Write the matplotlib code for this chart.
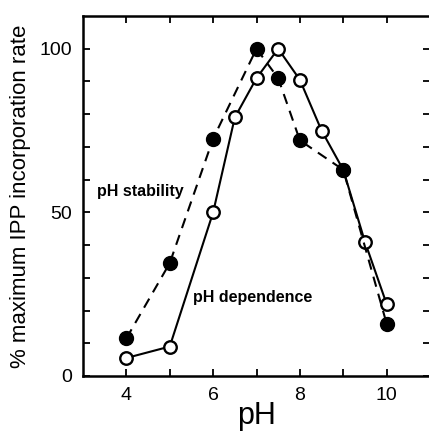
import matplotlib
matplotlib.use("Agg")
import matplotlib.pyplot as plt
import numpy as np

plt.rcParams['font.family'] = ['Liberation Sans', 'DejaVu Sans']

# pH dependence (open circles, solid line)
ph_dep = [4, 5, 6, 6.5, 7, 7.5, 8, 8.5, 9, 9.5, 10]
rate_dep = [5.5, 9, 50, 79, 91, 100, 90.5, 75, 63, 41, 22]

# pH stability (filled circles, dashed line)
ph_stab = [4, 5, 6, 7, 7.5, 8, 9, 10]
rate_stab = [11.5, 34.5, 72.5, 100, 91, 72, 63, 16]

xtick_labels = [4, 6, 8, 10]
ytick_labels = [0, 50, 100]

fig = plt.figure(figsize=(4.29, 4.32), dpi=100)
ax = fig.add_axes([83/429, 1 - 376/432, 347/429, 360/432])

ax.plot(ph_dep, rate_dep, color='black', lw=1.5, ls='-',
        marker='o', ms=9, mfc='white', mec='black', mew=1.7, zorder=2)
ax.plot(ph_stab, rate_stab, color='black', lw=1.5, ls=(0, (5, 3.5)),
        marker='o', ms=10, mfc='black', mec='black', zorder=3)

ax.set_xlim(3, 11)
ax.set_ylim(0, 110)
ax.set_xticks(np.arange(4, 11, 1))
ax.set_xticklabels([str(v) if v in xtick_labels else '' for v in range(4, 11)])
ax.set_yticks(np.arange(0, 110, 10))
ax.set_yticklabels([str(v) if v in ytick_labels else '' for v in range(0, 110, 10)])
ax.tick_params(direction='in', length=5, width=1.3, labelsize=14,
               top=True, right=True, pad=8)

for s in ax.spines.values():
    s.set_linewidth(1.8)

ax.set_xlabel('pH', fontsize=22, labelpad=-2)
ax.set_ylabel('% maximum IPP incorporation rate', fontsize=16, labelpad=6)

ax.text(3.32, 56.3, 'pH stability', fontsize=11.5, fontweight='bold', va='center')
ax.text(5.53, 23.9, 'pH dependence', fontsize=11.5, fontweight='bold', va='center')

fig.savefig('out.png', dpi=100)
